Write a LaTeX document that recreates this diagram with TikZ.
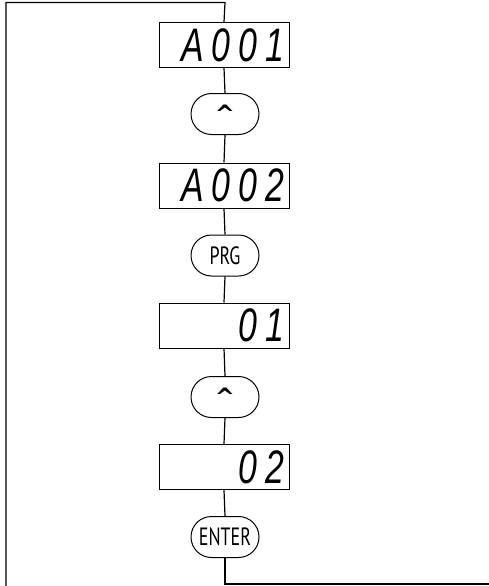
\documentclass[tikz,border=0pt]{standalone}
\usepackage{fontspec}
\usetikzlibrary{positioning,shapes.misc}
\newfontfamily\segfont[LetterSpace=17,FakeStretch=0.72]{Liberation Sans}
\newfontfamily\keyfont[FakeStretch=0.72]{PT Sans}
\newfontfamily\symfont{DejaVu Sans}
\tikzset{
  disp/.style={rectangle, draw=black, line width=1pt, minimum height=45pt,
               text width=130pt, inner sep=0pt, align=right,
               font=\segfont\itshape\fontsize{47pt}{47pt}\selectfont},
  key/.style={rounded rectangle, draw=black, line width=1pt, minimum width=68pt,
              minimum height=41pt, inner sep=0pt,
              font=\keyfont\fontsize{25pt}{25pt}\selectfont},
  wire/.style={line width=1.2pt, draw=black},
}
\newcommand{\upkey}{{\symfont\bfseries\fontsize{24pt}{24pt}\selectfont\raisebox{-9pt}{\textasciicircum}}}

\begin{document}
\begin{tikzpicture}[x=1pt, y=-1pt]
\useasboundingbox (0,0) rectangle (489,586);

%% =====================================================================
%% displays and keys, top to bottom
%% =====================================================================
\node[disp] (d1) at (224, 45.0) {A001\kern5pt};
\node[key]  (b1) at (225,114.0) {\upkey};
\node[disp] (d2) at (224,185.5) {A002\kern5pt};
\node[key]  (b2) at (225,255.5) {PRG};
\node[disp] (d3) at (224,325.5) {01\kern5pt};
\node[key]  (b3) at (225,397.0) {\upkey};
\node[disp] (d4) at (224,467.0) {02\kern5pt};
\node[key]  (b4) at (225,537.0) {ENTER};

%% links between the steps
\foreach \a/\b in {d1/b1, b1/d2, d2/b2, b2/d3, d3/b3, b3/d4, d4/b4}
  \draw[wire] (\a.south) -- (\b.north);

%% return loop round the left, out at the bottom
\coordinate (tl)  at (6,2.5);
\coordinate (tc)  at (225,2.5);
\coordinate (lb)  at (6,586);
\coordinate (bc)  at (225,584);
\coordinate (br)  at (489,584);
\draw[wire] (lb) -- (tl) -- (tc) -- (d1.north);
\draw[wire] (b4.south) -- (bc) -- (br);

\end{tikzpicture}
\end{document}
